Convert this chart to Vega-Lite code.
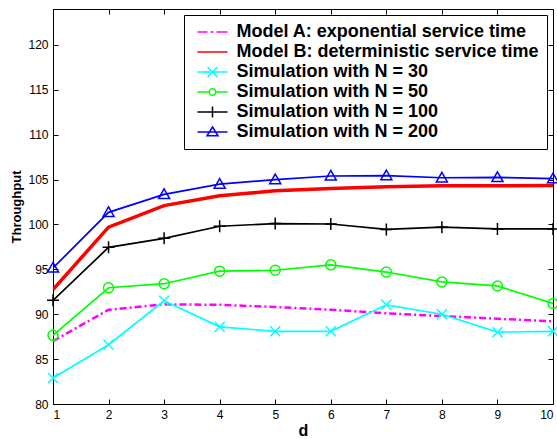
{
  "$schema": "https://vega.github.io/schema/vega-lite/v6.json",
  "width": 500,
  "height": 395,
  "autosize": {"type": "none"},
  "padding": {"left": 53, "top": 9, "right": 4, "bottom": 35},
  "background": "white",
  "config": {
    "view": {"stroke": "black", "strokeWidth": 1},
    "font": "Liberation Sans",
    "axis": {
      "grid": false,
      "domainColor": "black",
      "tickColor": "black",
      "labelColor": "black",
      "titleColor": "black",
      "labelFont": "Liberation Sans",
      "titleFont": "Liberation Sans",
      "labelFontSize": 12,
      "tickSize": -5,
      "labelPadding": 10
    },
    "legend": {
      "title": null,
      "orient": "top-right",
      "offset": 6,
      "padding": 8,
      "strokeColor": "black",
      "fillColor": "white",
      "labelFont": "Liberation Sans",
      "labelFontSize": 18,
      "labelFontWeight": "bold",
      "labelColor": "black",
      "labelLimit": 600,
      "labelOffset": 15,
      "symbolSize": 100,
      "symbolOffset": 11.5,
      "symbolOpacity": 1,
      "symbolStrokeWidth": 1.5,
      "rowPadding": 2
    }
  },
  "data": {
    "values": [
      {"d": 1, "series": "Model A: exponential service time", "t": 87.0},
      {"d": 2, "series": "Model A: exponential service time", "t": 90.5},
      {"d": 3, "series": "Model A: exponential service time", "t": 91.1},
      {"d": 4, "series": "Model A: exponential service time", "t": 91.05},
      {"d": 5, "series": "Model A: exponential service time", "t": 90.8},
      {"d": 6, "series": "Model A: exponential service time", "t": 90.5},
      {"d": 7, "series": "Model A: exponential service time", "t": 90.1},
      {"d": 8, "series": "Model A: exponential service time", "t": 89.8},
      {"d": 9, "series": "Model A: exponential service time", "t": 89.5},
      {"d": 10, "series": "Model A: exponential service time", "t": 89.2},
      {"d": 1, "series": "Model B: deterministic service time", "t": 92.75},
      {"d": 2, "series": "Model B: deterministic service time", "t": 99.7},
      {"d": 3, "series": "Model B: deterministic service time", "t": 102.1},
      {"d": 4, "series": "Model B: deterministic service time", "t": 103.2},
      {"d": 5, "series": "Model B: deterministic service time", "t": 103.75},
      {"d": 6, "series": "Model B: deterministic service time", "t": 104.0},
      {"d": 7, "series": "Model B: deterministic service time", "t": 104.2},
      {"d": 8, "series": "Model B: deterministic service time", "t": 104.3},
      {"d": 9, "series": "Model B: deterministic service time", "t": 104.3},
      {"d": 10, "series": "Model B: deterministic service time", "t": 104.35},
      {"d": 1, "series": "Simulation with N = 30", "t": 82.9},
      {"d": 2, "series": "Simulation with N = 30", "t": 86.6},
      {"d": 3, "series": "Simulation with N = 30", "t": 91.5},
      {"d": 4, "series": "Simulation with N = 30", "t": 88.6},
      {"d": 5, "series": "Simulation with N = 30", "t": 88.1},
      {"d": 6, "series": "Simulation with N = 30", "t": 88.1},
      {"d": 7, "series": "Simulation with N = 30", "t": 91.05},
      {"d": 8, "series": "Simulation with N = 30", "t": 90.0},
      {"d": 9, "series": "Simulation with N = 30", "t": 88.0},
      {"d": 10, "series": "Simulation with N = 30", "t": 88.1},
      {"d": 1, "series": "Simulation with N = 50", "t": 87.65},
      {"d": 2, "series": "Simulation with N = 50", "t": 92.95},
      {"d": 3, "series": "Simulation with N = 50", "t": 93.4},
      {"d": 4, "series": "Simulation with N = 50", "t": 94.8},
      {"d": 5, "series": "Simulation with N = 50", "t": 94.9},
      {"d": 6, "series": "Simulation with N = 50", "t": 95.5},
      {"d": 7, "series": "Simulation with N = 50", "t": 94.7},
      {"d": 8, "series": "Simulation with N = 50", "t": 93.6},
      {"d": 9, "series": "Simulation with N = 50", "t": 93.15},
      {"d": 10, "series": "Simulation with N = 50", "t": 91.2},
      {"d": 1, "series": "Simulation with N = 100", "t": 91.55},
      {"d": 2, "series": "Simulation with N = 100", "t": 97.45},
      {"d": 3, "series": "Simulation with N = 100", "t": 98.45},
      {"d": 4, "series": "Simulation with N = 100", "t": 99.8},
      {"d": 5, "series": "Simulation with N = 100", "t": 100.1},
      {"d": 6, "series": "Simulation with N = 100", "t": 100.05},
      {"d": 7, "series": "Simulation with N = 100", "t": 99.45},
      {"d": 8, "series": "Simulation with N = 100", "t": 99.7},
      {"d": 9, "series": "Simulation with N = 100", "t": 99.5},
      {"d": 10, "series": "Simulation with N = 100", "t": 99.5},
      {"d": 1, "series": "Simulation with N = 200", "t": 95.15},
      {"d": 2, "series": "Simulation with N = 200", "t": 101.35},
      {"d": 3, "series": "Simulation with N = 200", "t": 103.35},
      {"d": 4, "series": "Simulation with N = 200", "t": 104.5},
      {"d": 5, "series": "Simulation with N = 200", "t": 105.0},
      {"d": 6, "series": "Simulation with N = 200", "t": 105.4},
      {"d": 7, "series": "Simulation with N = 200", "t": 105.45},
      {"d": 8, "series": "Simulation with N = 200", "t": 105.2},
      {"d": 9, "series": "Simulation with N = 200", "t": 105.25},
      {"d": 10, "series": "Simulation with N = 200", "t": 105.1}
    ]
  },
  "resolve": {"axis": {"x": "independent", "y": "independent"}},
  "layer": [
    {
      "mark": {"type": "point", "filled": false, "opacity": 0},
      "encoding": {
        "x": {
          "field": "d", "type": "quantitative",
          "scale": {"domain": [1, 10], "nice": false, "zero": false},
          "axis": {"values": [1,2,3,4,5,6,7,8,9,10], "format": "d", "title": "d", "titleFontSize": 16, "titleFontWeight": "bold", "titlePadding": 2}
        },
        "y": {
          "field": "t", "type": "quantitative",
          "scale": {"domain": [80, 124], "nice": false, "zero": false},
          "axis": {"values": [80,85,90,95,100,105,110,115,120], "title": "Throughput", "titleFontSize": 13, "titleFontWeight": "bold", "titlePadding": 4}
        },
        "color": {
          "field": "series", "type": "nominal",
          "scale": {
            "domain": ["Model A: exponential service time", "Model B: deterministic service time", "Simulation with N = 30", "Simulation with N = 50", "Simulation with N = 100", "Simulation with N = 200"],
            "range": ["#ff00ff", "#ff0000", "#00ffff", "#00ff00", "#000000", "#0000ff"]
          },
          "legend": {
            "encode": {"symbols": {"update": {
              "opacity": {"value": 1}, "strokeOpacity": {"value": 1}, "fill": {"value": "transparent"},
              "strokeWidth": {"signal": "datum.value === 'Model B: deterministic service time' ? 3.5 : (datum.value === 'Model A: exponential service time' ? 2 : 1.5)"}
            }}}
          }
        },
        "shape": {
          "field": "series", "type": "nominal",
          "scale": {
            "domain": ["Model A: exponential service time", "Model B: deterministic service time", "Simulation with N = 30", "Simulation with N = 50", "Simulation with N = 100", "Simulation with N = 200"],
            "range": ["M-3,0H-1M-0.4,0H0.2M0.8,0H3", "M-3,0H3", "M-3,0H3M-1,-1L1,1M-1,1L1,-1", "M-3,0H-0.65M0.65,0H3M-0.65,0A0.65,0.65 0 1,0 0.65,0A0.65,0.65 0 1,0 -0.65,0Z", "M-3,0H3M0,-1.1V1.1", "M-3,0H3M0,-1L1.1,0.75L-1.1,0.75Z"]
          },
          "legend": {
            "encode": {"symbols": {"update": {
              "opacity": {"value": 1}, "strokeOpacity": {"value": 1}, "fill": {"value": "transparent"},
              "strokeWidth": {"signal": "datum.value === 'Model B: deterministic service time' ? 3.5 : (datum.value === 'Model A: exponential service time' ? 2 : 1.5)"}
            }}}
          }
        }
      }
    },
    {
      "transform": [{"filter": "datum.series === 'Model A: exponential service time'"}],
      "mark": {"type": "line", "clip": true, "strokeWidth": 2.5, "strokeDash": [7, 3, 2, 3]},
      "encoding": {
        "x": {"field": "d", "type": "quantitative", "axis": null},
        "y": {"field": "t", "type": "quantitative", "axis": null},
        "color": {"field": "series", "type": "nominal"}
      }
    },
    {
      "transform": [{"filter": "datum.series === 'Model B: deterministic service time'"}],
      "mark": {"type": "line", "clip": true, "strokeWidth": 3.5},
      "encoding": {
        "x": {"field": "d", "type": "quantitative", "axis": null},
        "y": {"field": "t", "type": "quantitative", "axis": null},
        "color": {"field": "series", "type": "nominal"}
      }
    },
    {
      "transform": [{"filter": "indexof(datum.series, 'Simulation') === 0"}],
      "mark": {"type": "line", "clip": true, "strokeWidth": 1.7},
      "encoding": {
        "x": {"field": "d", "type": "quantitative", "axis": null},
        "y": {"field": "t", "type": "quantitative", "axis": null},
        "color": {"field": "series", "type": "nominal"}
      }
    },
    {
      "transform": [{"filter": "datum.series === 'Simulation with N = 30'"}],
      "mark": {"type": "point", "filled": false, "color": "#00ffff", "strokeWidth": 1.5, "size": 100, "shape": "M-1,-1L1,1M-1,1L1,-1", "opacity": 1},
      "encoding": {
        "x": {"field": "d", "type": "quantitative", "axis": {"orient": "top", "values": [1,2,3,4,5,6,7,8,9,10], "labels": false, "title": null, "domain": false}},
        "y": {"field": "t", "type": "quantitative", "axis": {"orient": "right", "values": [80,85,90,95,100,105,110,115,120], "labels": false, "title": null, "domain": false}}
      }
    },
    {
      "transform": [{"filter": "datum.series === 'Simulation with N = 50'"}],
      "mark": {"type": "point", "filled": false, "color": "#00ff00", "strokeWidth": 1.5, "size": 100, "shape": "circle", "opacity": 1},
      "encoding": {
        "x": {"field": "d", "type": "quantitative", "axis": null},
        "y": {"field": "t", "type": "quantitative", "axis": null}
      }
    },
    {
      "transform": [{"filter": "datum.series === 'Simulation with N = 100'"}],
      "mark": {"type": "point", "filled": false, "color": "#000000", "strokeWidth": 1.5, "size": 144, "shape": "M-1,0H1M0,-1V1", "opacity": 1},
      "encoding": {
        "x": {"field": "d", "type": "quantitative", "axis": null},
        "y": {"field": "t", "type": "quantitative", "axis": null}
      }
    },
    {
      "transform": [{"filter": "datum.series === 'Simulation with N = 200'"}],
      "mark": {"type": "point", "filled": false, "color": "#0000ff", "strokeWidth": 1.5, "size": 121, "shape": "M0,-1L1,0.75L-1,0.75Z", "opacity": 1},
      "encoding": {
        "x": {"field": "d", "type": "quantitative", "axis": null},
        "y": {"field": "t", "type": "quantitative", "axis": null}
      }
    }
  ]
}
